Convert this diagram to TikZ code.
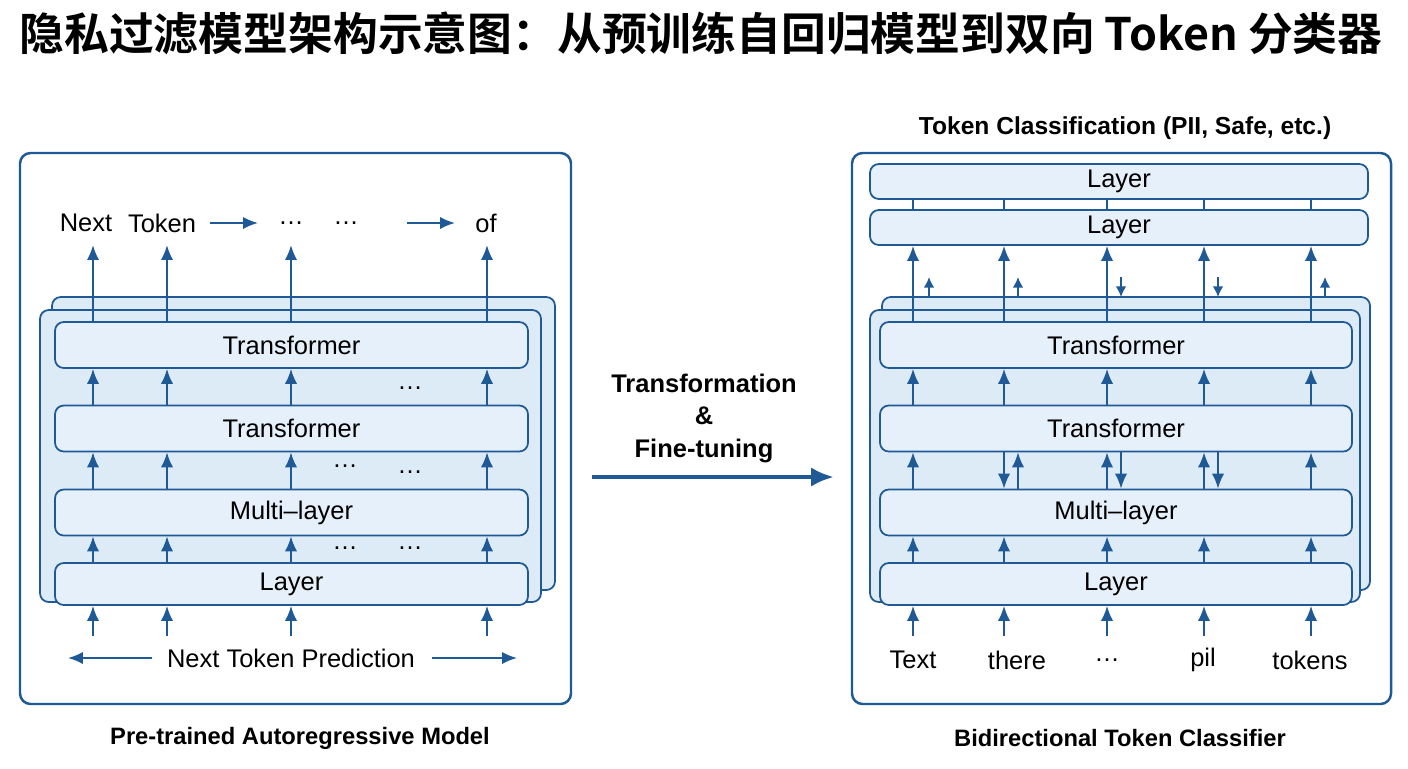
\documentclass[tikz,border=0pt]{standalone}
\usepackage{fontspec}
\setmainfont{Liberation Sans}
\newfontfamily\cjk{Noto Sans CJK SC}[BoldFont={Noto Sans CJK SC Bold}]
\usetikzlibrary{arrows.meta}
\definecolor{navy}{HTML}{1F5A96}
\definecolor{pale}{HTML}{DDEBF7}
\definecolor{paler}{HTML}{E6F0FA}

\begin{document}
\begin{tikzpicture}[x=0.02cm,y=-0.02cm,
            panel/.style={draw=navy,line width=1.4pt,rounded corners=6pt,fill=white},
            stack/.style={draw=navy,line width=1pt,rounded corners=5pt,fill=pale},
            blk/.style={draw=navy,line width=1pt,rounded corners=5pt,fill=paler,font=\fontsize{14.5}{16}\selectfont},
            arr/.style={draw=navy,line width=1.1pt,-{Latex[length=8.5pt,width=7pt]}},
            lbl/.style={font=\fontsize{14.5}{16}\selectfont},
            caption/.style={font=\bfseries\fontsize{13.5}{15}\selectfont},
            ]
            \useasboundingbox (0,0) rectangle (1408,768);
            \node[font=\cjk\bfseries\fontsize{25.5}{27}\selectfont] (title) at (701,33) {隐私过滤模型架构示意图：从预训练自回归模型到双向 Token 分类器};

            % left panel
            \draw[panel] (20,153) rectangle (571,704);
            \draw[stack] (52,297) rectangle (555,590);
            \draw[stack] (40,310) rectangle (541,602);
            \node[blk, minimum width=473*0.02cm, minimum height=46*0.02cm] (LT1) at (291.5,345) {Transformer};
            \node[blk, minimum width=473*0.02cm, minimum height=46*0.02cm] (LT2) at (291.5,428.5) {Transformer};
            \node[blk, minimum width=473*0.02cm, minimum height=46*0.02cm] (LM) at (291.5,512.5) {Multi--layer};
            \node[blk, minimum width=473*0.02cm, minimum height=42*0.02cm] (LL) at (291.5,584) {Layer};
            \node[lbl] (n1) at (86,223) {Next};
            \node[lbl] (n2) at (162,223) {Token};
            \node[lbl] (n3) at (291,223) {\dots};
            \node[lbl] (n4) at (346,223) {\dots};
            \node[lbl] (n5) at (486,223) {of};
            \coordinate (a1) at (210,223); \coordinate (a2) at (258,223);
            \coordinate (a3) at (407,223); \coordinate (a4) at (455,223);
            \draw[arr] (a1) -- (a2);
            \draw[arr] (a3) -- (a4);
            \foreach \x in {93,167,291,487} {
                \draw[arr] (LT1.north -| \x,0) -- (\x,245);
                \draw[arr] (LT2.north -| \x,0) -- (LT1.south -| \x,0);
                \draw[arr] (LM.north -| \x,0) -- (LT2.south -| \x,0);
                \draw[arr] (LL.north -| \x,0) -- (LM.south -| \x,0);
                \draw[arr] (\x,636) -- (LL.south -| \x,0);
            }
            \node[lbl] (d1) at (410,388) {\dots};
            \node[lbl] (d2) at (345,466) {\dots};
            \node[lbl] (d3) at (410,472) {\dots};
            \node[lbl] (d4) at (345,548) {\dots};
            \node[lbl] (d5) at (410,548) {\dots};
            \node[lbl] (ntp) at (291,658) {Next Token Prediction};
            \coordinate (p1) at (68,658); \coordinate (p2) at (517,658);
            \draw[arr] (152,658) -- (p1);
            \draw[arr] (432,658) -- (p2);
            \node[caption] (lcap) at (300,738) {Pre-trained Autoregressive Model};

            % middle
            \node[font=\bfseries\fontsize{14.5}{18.5}\selectfont, align=center] (mid) at (704,418) {Transformation\\\&\\Fine-tuning};
            \coordinate (m1) at (592,477); \coordinate (m2) at (834,477);
            \draw[draw=navy,line width=2.6pt,-{Latex[length=13pt,width=11pt]}] (m1) -- (m2);

            % right panel
            \node[font=\bfseries\fontsize{14}{15}\selectfont] (rtop) at (1125,128) {Token Classification (PII, Safe, etc.)};
            \draw[panel] (852,153) rectangle (1391,704);
            \draw[stack] (882,297) rectangle (1370,590);
            \draw[stack] (870,310) rectangle (1360,602);
            \node[blk, minimum width=498*0.02cm, minimum height=35*0.02cm] (RL1) at (1119,181.5) {Layer};
            \node[blk, minimum width=498*0.02cm, minimum height=35*0.02cm] (RL2) at (1119,227.5) {Layer};
            \node[blk, minimum width=472*0.02cm, minimum height=46*0.02cm] (RT1) at (1116,345) {Transformer};
            \node[blk, minimum width=472*0.02cm, minimum height=46*0.02cm] (RT2) at (1116,428.5) {Transformer};
            \node[blk, minimum width=472*0.02cm, minimum height=46*0.02cm] (RM) at (1116,512.5) {Multi--layer};
            \node[blk, minimum width=472*0.02cm, minimum height=42*0.02cm] (RL) at (1116,584) {Layer};
            \foreach \x in {913,1004,1107,1204,1311} {
                \draw[draw=navy,line width=1pt] (RL2.north -| \x,0) -- (RL1.south -| \x,0);
                \draw[arr] (RT1.north -| \x,0) -- (RL2.south -| \x,0);
                \draw[arr] (RT2.north -| \x,0) -- (RT1.south -| \x,0);
                \draw[arr] (RL.north -| \x,0) -- (RM.south -| \x,0);
                \draw[arr] (\x,636) -- (RL.south -| \x,0);
            }
            \foreach \x in {913,1018,1107,1204,1311}
                \draw[arr] (RM.north -| \x,0) -- (RT2.south -| \x,0);
            \foreach \x in {1004,1121,1218}
                \draw[arr] (RT2.south -| \x,0) -- (RM.north -| \x,0);
            \foreach \x in {929,1018,1325}
                \draw[draw=navy,line width=1pt,-{Latex[length=6pt,width=6pt]}] (\x,297) -- (\x,277);
            \foreach \x in {1121,1218}
                \draw[draw=navy,line width=1pt,-{Latex[length=6pt,width=6pt]}] (\x,277) -- (\x,297);
            \node[lbl] (w1) at (913,660) {Text};
            \node[lbl] (w2) at (1017,660) {there};
            \node[lbl] (w3) at (1107,660) {\dots};
            \node[lbl] (w4) at (1203,660) {pil};
            \node[lbl] (w5) at (1310,660) {tokens};
            \node[caption] (rcap) at (1120,738) {Bidirectional Token Classifier};
        \end{tikzpicture}
\end{document}
